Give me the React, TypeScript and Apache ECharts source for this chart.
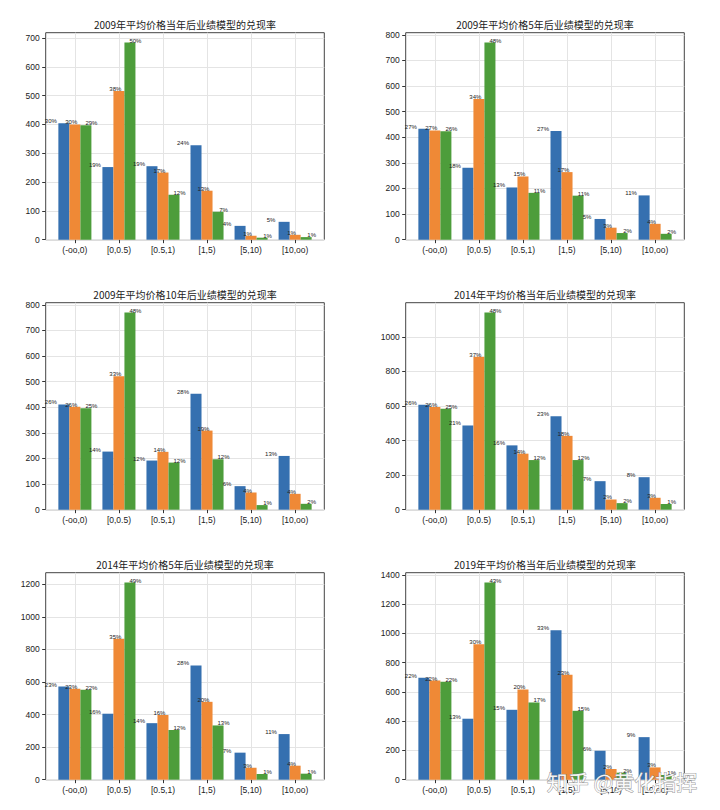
import React, { useEffect, useRef } from "react";
import * as echarts from "echarts";

const categories = ["(-oo,0)", "[0,0.5)", "[0.5,1)", "[1,5)", "[5,10)", "[10,oo)"];

const titles = [
  "2009年平均价格当年后业绩模型的兑现率",
  "2009年平均价格5年后业绩模型的兑现率",
  "2009年平均价格10年后业绩模型的兑现率",
  "2014年平均价格当年后业绩模型的兑现率",
  "2014年平均价格5年后业绩模型的兑现率",
  "2019年平均价格当年后业绩模型的兑现率",
];

// panel 1: 2009 当年
const p1Blue = [404, 252, 255, 328, 48, 62];
const p1Orange = [400, 516, 233, 170, 14, 17];
const p1Green = [397, 684, 156, 97, 7, 9];
const p1BlueLbl = ["30%", "19%", "19%", "24%", "4%", "5%"];
const p1OrangeLbl = ["30%", "38%", "17%", "13%", "1%", "1%"];
const p1GreenLbl = ["29%", "50%", "12%", "7%", "1%", "1%"];

// panel 2: 2009 5年
const p2Blue = [433, 281, 204, 425, 81, 173];
const p2Orange = [427, 550, 247, 264, 47, 62];
const p2Green = [424, 770, 183, 172, 26, 23];
const p2BlueLbl = ["27%", "18%", "13%", "27%", "5%", "11%"];
const p2OrangeLbl = ["27%", "34%", "15%", "17%", "3%", "4%"];
const p2GreenLbl = ["26%", "48%", "11%", "11%", "2%", "2%"];

// panel 3: 2009 10年
const p3Blue = [411, 227, 192, 453, 92, 210];
const p3Orange = [402, 521, 226, 309, 67, 62];
const p3Green = [396, 770, 184, 197, 18, 23];
const p3BlueLbl = ["26%", "14%", "12%", "28%", "6%", "13%"];
const p3OrangeLbl = ["26%", "33%", "14%", "19%", "4%", "4%"];
const p3GreenLbl = ["25%", "48%", "12%", "12%", "1%", "2%"];

// panel 4: 2014 当年
const p4Blue = [607, 487, 372, 540, 165, 188];
const p4Orange = [594, 885, 324, 427, 59, 69];
const p4Green = [584, 1140, 287, 287, 38, 33];
const p4BlueLbl = ["26%", "21%", "16%", "23%", "7%", "8%"];
const p4OrangeLbl = ["26%", "37%", "14%", "18%", "2%", "3%"];
const p4GreenLbl = ["25%", "48%", "12%", "12%", "2%", "1%"];

// panel 5: 2014 5年
const p5Blue = [572, 405, 347, 701, 166, 280];
const p5Orange = [558, 865, 397, 478, 74, 86];
const p5Green = [552, 1210, 305, 333, 35, 37];
const p5BlueLbl = ["23%", "16%", "14%", "28%", "7%", "11%"];
const p5OrangeLbl = ["23%", "35%", "16%", "20%", "3%", "4%"];
const p5GreenLbl = ["22%", "49%", "12%", "13%", "1%", "1%"];

// panel 6: 2019 当年
const p6Blue = [697, 417, 478, 1022, 198, 291];
const p6Orange = [678, 926, 617, 717, 73, 84];
const p6Green = [669, 1348, 528, 471, 48, 32];
const p6BlueLbl = ["22%", "13%", "15%", "33%", "6%", "9%"];
const p6OrangeLbl = ["22%", "30%", "20%", "23%", "2%", "3%"];
const p6GreenLbl = ["22%", "43%", "17%", "15%", "2%", "1%"];

const tickSteps = [100, 100, 100, 200, 200, 200];

const panels = [
  { blue: p1Blue, orange: p1Orange, green: p1Green, lbl: [p1BlueLbl, p1OrangeLbl, p1GreenLbl] },
  { blue: p2Blue, orange: p2Orange, green: p2Green, lbl: [p2BlueLbl, p2OrangeLbl, p2GreenLbl] },
  { blue: p3Blue, orange: p3Orange, green: p3Green, lbl: [p3BlueLbl, p3OrangeLbl, p3GreenLbl] },
  { blue: p4Blue, orange: p4Orange, green: p4Green, lbl: [p4BlueLbl, p4OrangeLbl, p4GreenLbl] },
  { blue: p5Blue, orange: p5Orange, green: p5Green, lbl: [p5BlueLbl, p5OrangeLbl, p5GreenLbl] },
  { blue: p6Blue, orange: p6Orange, green: p6Green, lbl: [p6BlueLbl, p6OrangeLbl, p6GreenLbl] },
];

const COLORS = ["#3570b0", "#ef8936", "#4d9d3b"];
const FONT = '"Liberation Sans", "Noto Sans CJK SC", sans-serif';

export default function App() {
  const ref = useRef<HTMLDivElement>(null);
  useEffect(() => {
    if (!ref.current) return;
    const chart = echarts.init(ref.current, null, { renderer: "svg" });

    const W = 278.6;
    const H = 207;
    const unit = W / 6.325;
    const frames = [
      { L: 45.7, T: 32.7 },
      { L: 405.7, T: 32.7 },
      { L: 45.7, T: 302.7 },
      { L: 405.7, T: 302.7 },
      { L: 45.7, T: 572.7 },
      { L: 405.7, T: 572.7 },
    ];
    const labelDx = [-13, -3.6, 5.5];

    const grid: any[] = [];
    const xAxis: any[] = [];
    const yAxis: any[] = [];
    const series: any[] = [];
    const graphic: any[] = [];

    panels.forEach((p, i) => {
      const f = frames[i];
      const dataMax = Math.max(...p.blue, ...p.orange, ...p.green);
      const ymax = dataMax * 1.05;
      const step = tickSteps[i];
      const ticks: number[] = [];
      for (let v = 0; v <= ymax; v += step) ticks.push(v);

      grid.push({ left: f.L, top: f.T, width: W, height: H, show: true, borderColor: "#444", borderWidth: 1, backgroundColor: "transparent" });
      grid.push({ left: f.L + 0.1625 * unit, top: f.T, width: 6 * unit, height: H });
      grid.push({ left: f.L + 0.6625 * unit, top: f.T, width: 5 * unit, height: H });

      const gA = 3 * i, gB = 3 * i + 1, gC = 3 * i + 2;

      xAxis.push({ gridIndex: gA, type: "value", show: false, min: 0, max: 1 });
      yAxis.push({
        gridIndex: gA,
        type: "value",
        min: 0,
        max: ymax,
        interval: step,
        axisLine: { show: false },
        axisTick: { show: true, length: 3.5, lineStyle: { color: "#333" }, customValues: ticks },
        axisLabel: {
          customValues: ticks,
          fontSize: 8.5,
          color: "#222",
          margin: 6,
          fontFamily: FONT,
          formatter: (v: number) => String(Math.round(v)),
        },
        splitLine: { show: true, lineStyle: { color: "#e4e4e4", width: 1 } },
      });

      xAxis.push({ gridIndex: gB, type: "category", data: categories, show: false });
      yAxis.push({ gridIndex: gB, type: "value", min: 0, max: ymax, show: false });

      xAxis.push({
        gridIndex: gC,
        type: "value",
        min: 0,
        max: 5,
        interval: 1,
        axisLine: { show: false },
        axisTick: { show: true, length: 3.5, lineStyle: { color: "#333" } },
        axisLabel: {
          formatter: (v: number) => categories[Math.round(v)] ?? "",
          fontSize: 8.5,
          color: "#222",
          margin: 6,
          fontFamily: FONT,
        },
        splitLine: { show: true, lineStyle: { color: "#e4e4e4", width: 1 } },
      });
      yAxis.push({ gridIndex: gC, type: "value", show: false, min: 0, max: 1, splitLine: { show: false } });

      const vals = [p.blue, p.orange, p.green];
      vals.forEach((d, k) => {
        const lbls = p.lbl[k];
        series.push({
          type: "bar",
          xAxisIndex: gB,
          yAxisIndex: gB,
          data: d,
          barWidth: unit * 0.25,
          barGap: "0%",
          itemStyle: { color: COLORS[k] },
          label: {
            show: true,
            position: "top",
            distance: 0,
            offset: [labelDx[k] * (unit / 44.05), 1],
            fontSize: 6,
            color: "#222",
            fontFamily: FONT,
            formatter: (prm: any) => lbls[prm.dataIndex],
          },
        });
      });

      graphic.push({
        type: "text",
        x: f.L + W / 2,
        y: f.T - 8.5,
        style: {
          text: titles[i],
          fill: "#222",
          font: `10px "Noto Sans CJK SC", "Liberation Sans", sans-serif`,
          textAlign: "center",
          textVerticalAlign: "middle",
        },
      });
    });

    graphic.push({
      type: "text",
      x: 622,
      y: 781,
      z: 100,
      style: {
        text: "知乎 @黄化指挥",
        fill: "rgba(255,255,255,0.92)",
        stroke: "rgba(120,120,120,0.75)",
        lineWidth: 1,
        font: `21px "Noto Sans CJK SC", sans-serif`,
        textAlign: "center",
        textVerticalAlign: "middle",
      },
    });

    chart.setOption({
      animation: false,
      backgroundColor: "#ffffff",
      grid,
      xAxis,
      yAxis,
      series,
      graphic,
    });
    return () => chart.dispose();
  }, []);

  return <div ref={ref} style={{ position: "absolute", left: 0, top: 0, width: 720, height: 810 }} />;
}
